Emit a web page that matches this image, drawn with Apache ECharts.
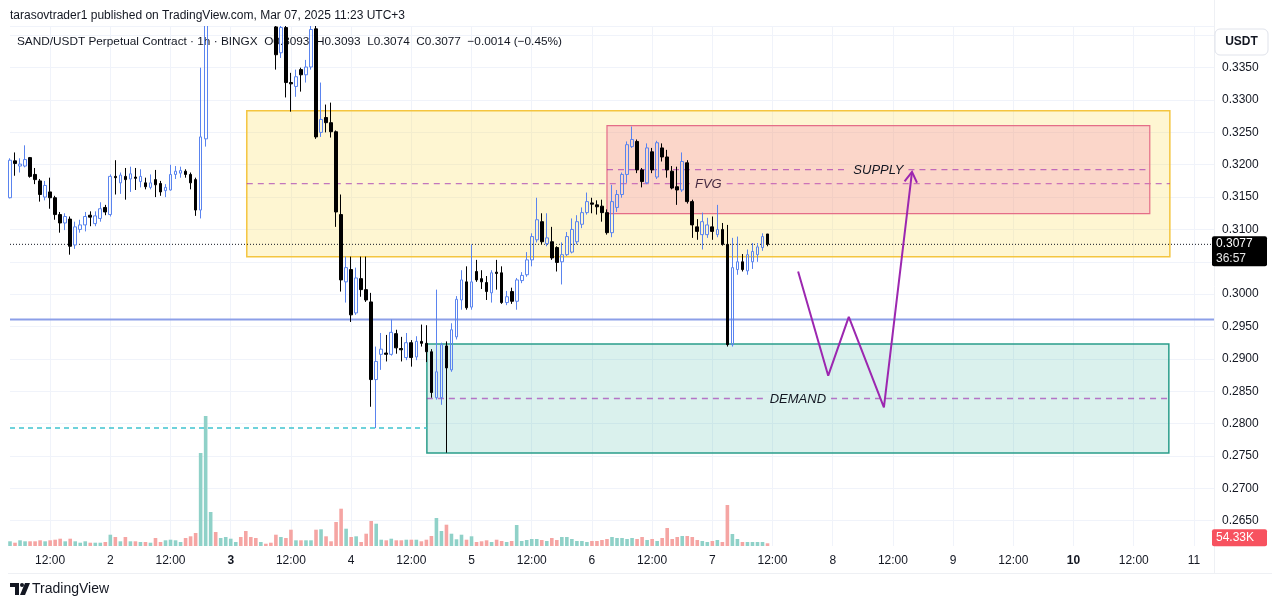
<!DOCTYPE html>
<html><head><meta charset="utf-8">
<script src="https://cdn.jsdelivr.net/npm/echarts@6/dist/echarts.min.js"></script>
<style>html,body{margin:0;padding:0;background:#fff;}#c{width:1280px;height:606px;}</style>
</head><body><div id="c"></div>
<script>
// ---------- DATA ----------
const startHourUTC = Date.UTC(2025, 2, 1, 4); // first candle: Mar 1, 04:00 (chart time)
const hourSlots = 241;                        // Mar 1 04:00 .. Mar 11 04:00

const open = [0.3149,0.3206,0.3198,0.3198,0.3211,0.3185,0.3175,0.3150,0.3158,0.3149,
0.3123,0.3110,0.3116,0.3076,0.3100,0.3107,0.3122,0.3109,0.3117,0.3134,
0.3123,0.3182,0.3172,0.3182,0.3178,0.3181,0.3174,0.3172,0.3165,0.3177,
0.3171,0.3160,0.3161,0.3185,0.3187,0.3190,0.3185,0.3177,0.3130,0.3240,
0.3445,0.3520,0.3490,0.3530,0.3560,0.3575,0.3585,0.3540,0.3490,0.3465,
0.3450,0.3462,0.3448,0.3413,0.3373,0.3412,0.3327,0.3321,0.3347,0.3339,
0.3351,0.3410,0.3250,0.3273,0.3265,0.3251,0.3123,0.3019,0.3038,0.2971,
0.3024,0.3007,0.2988,0.2868,0.2907,0.2909,0.2907,0.2939,0.2916,0.2902,
0.2925,0.2903,0.2927,0.2924,0.2911,0.2840,0.2840,0.2920,0.2883,0.2934,
0.2991,0.3019,0.2980,0.3035,0.3024,0.3018,0.3002,0.3034,0.3033,0.2987,
0.3004,0.2989,0.3021,0.3030,0.3053,0.3084,0.3112,0.3078,0.3081,0.3072,
0.3050,0.3061,0.3065,0.3081,0.3108,0.3126,0.3141,0.3138,0.3136,0.3126,
0.3095,0.3134,0.3154,0.3185,0.3228,0.3236,0.3192,0.3172,0.3220,0.3181,
0.3226,0.3212,0.3190,0.3166,0.3161,0.3203,0.3143,0.3104,0.3092,0.3092,
0.3104,0.3092,0.3100,0.3077,0.2922,0.3038,0.3050,0.3036,0.3050,0.3061,
0.3072,0.3093];
const high = [0.3210,0.3219,0.3210,0.3230,0.3212,0.3195,0.3178,0.3175,0.3180,0.3152,
0.3127,0.3125,0.3120,0.3112,0.3115,0.3127,0.3128,0.3128,0.3142,0.3138,
0.3185,0.3207,0.3188,0.3195,0.3197,0.3195,0.3193,0.3180,0.3185,0.3192,
0.3175,0.3170,0.3200,0.3198,0.3197,0.3193,0.3188,0.3180,0.3350,0.3470,
0.3560,0.3545,0.3550,0.3580,0.3600,0.3595,0.3590,0.3550,0.3500,0.3480,
0.3470,0.3468,0.3455,0.3440,0.3430,0.3420,0.3342,0.3347,0.3350,0.3362,
0.3430,0.3425,0.3327,0.3293,0.3296,0.3253,0.3154,0.3058,0.3058,0.3041,
0.3058,0.3058,0.3002,0.2919,0.2940,0.2937,0.2961,0.2945,0.2934,0.2940,
0.2929,0.2935,0.2953,0.2952,0.2915,0.3007,0.2925,0.2927,0.2955,0.2997,
0.3037,0.3043,0.3077,0.3053,0.3037,0.3028,0.3037,0.3053,0.3043,0.3005,
0.3010,0.3025,0.3034,0.3065,0.3094,0.3149,0.3125,0.3125,0.3104,0.3074,
0.3080,0.3096,0.3117,0.3122,0.3134,0.3157,0.3149,0.3145,0.3146,0.3131,
0.3169,0.3161,0.3188,0.3236,0.3259,0.3239,0.3195,0.3233,0.3226,0.3237,
0.3233,0.3223,0.3198,0.3197,0.3219,0.3207,0.3146,0.3116,0.3126,0.3118,
0.3120,0.3138,0.3110,0.3107,0.3087,0.3089,0.3062,0.3069,0.3079,0.3079,
0.3094,0.3093];
const low = [0.3148,0.3183,0.3188,0.3196,0.3180,0.3170,0.3143,0.3145,0.3132,0.3115,
0.3095,0.3099,0.3061,0.3070,0.3095,0.3097,0.3105,0.3105,0.3112,0.3122,
0.3120,0.3154,0.3155,0.3146,0.3158,0.3161,0.3165,0.3162,0.3162,0.3150,
0.3152,0.3150,0.3160,0.3178,0.3180,0.3180,0.3162,0.3121,0.3117,0.3228,
0.3430,0.3470,0.3480,0.3515,0.3545,0.3560,0.3530,0.3475,0.3455,0.3440,
0.3438,0.3435,0.3428,0.3347,0.3365,0.3304,0.3282,0.3305,0.3313,0.3327,
0.3347,0.3240,0.3243,0.3250,0.3242,0.3104,0.3004,0.2987,0.2957,0.2968,
0.2996,0.2988,0.2826,0.2793,0.2883,0.2896,0.2905,0.2908,0.2896,0.2898,
0.2888,0.2898,0.2919,0.2895,0.2840,0.2837,0.2829,0.2755,0.2880,0.2930,
0.2976,0.2976,0.2976,0.3019,0.3008,0.2991,0.2987,0.3007,0.2985,0.2983,
0.2985,0.2976,0.3017,0.3027,0.3043,0.3080,0.3077,0.3074,0.3053,0.3035,
0.3015,0.3059,0.3063,0.3077,0.3102,0.3123,0.3125,0.3123,0.3112,0.3092,
0.3088,0.3127,0.3149,0.3172,0.3226,0.3187,0.3165,0.3170,0.3187,0.3178,
0.3205,0.3180,0.3162,0.3138,0.3158,0.3140,0.3087,0.3084,0.3069,0.3087,
0.3084,0.3088,0.3075,0.2919,0.2919,0.3030,0.3035,0.3030,0.3039,0.3050,
0.3067,0.3074];
const close = [0.3207,0.3202,0.3201,0.3208,0.3182,0.3177,0.3154,0.3168,0.3149,0.3123,
0.3110,0.3120,0.3074,0.3104,0.3107,0.3120,0.3119,0.3121,0.3132,0.3127,
0.3182,0.3180,0.3184,0.3177,0.3186,0.3179,0.3182,0.3166,0.3172,0.3169,
0.3158,0.3165,0.3185,0.3190,0.3191,0.3185,0.3172,0.3130,0.3243,0.3445,
0.3520,0.3490,0.3530,0.3560,0.3575,0.3585,0.3540,0.3490,0.3465,0.3450,
0.3462,0.3448,0.3435,0.3370,0.3412,0.3327,0.3325,0.3336,0.3339,0.3351,
0.3409,0.3243,0.3270,0.3265,0.3251,0.3127,0.3022,0.3041,0.2968,0.3025,
0.3007,0.2991,0.2868,0.2896,0.2915,0.2907,0.2941,0.2917,0.2914,0.2925,
0.2902,0.2927,0.2924,0.2911,0.2848,0.2880,0.2922,0.2886,0.2945,0.2992,
0.3022,0.2979,0.3019,0.3022,0.3019,0.3004,0.3033,0.3032,0.2987,0.2996,
0.2989,0.3022,0.3029,0.3053,0.3089,0.3115,0.3081,0.3087,0.3056,0.3049,
0.3061,0.3089,0.3100,0.3112,0.3126,0.3143,0.3139,0.3135,0.3126,0.3095,
0.3143,0.3154,0.3185,0.3231,0.3239,0.3192,0.3174,0.3226,0.3192,0.3234,
0.3212,0.3192,0.3164,0.3161,0.3205,0.3143,0.3107,0.3097,0.3112,0.3107,
0.3097,0.3100,0.3077,0.2922,0.3041,0.3050,0.3038,0.3061,0.3066,0.3073,
0.3089,0.3077];
// volume, thousands of SAND
const volumeK = [94,66,114,94,94,94,114,94,114,126,146,94,146,94,66,94,66,66,66,80,
226,180,94,180,94,94,80,80,66,160,80,114,126,114,80,160,194,260,1860,2600,
680,280,160,180,146,80,180,300,180,160,80,46,66,226,180,160,326,114,114,114,
114,326,334,194,94,480,746,346,180,194,80,246,500,446,126,114,146,114,114,126,
126,126,94,126,200,560,300,426,246,134,226,126,194,80,94,114,80,126,100,80,
100,420,100,120,140,140,120,100,160,120,180,180,140,100,100,80,100,100,120,140,
180,160,160,140,160,140,180,120,140,100,160,360,140,180,200,200,180,120,100,80,
100,120,80,820,240,140,80,80,80,80,80,54.33];

// drawn levels and zones (time in hours from the first candle, price in USDT)
const lineLevelBlue = 0.2961;
const lineLevelCyan = 0.2793;
const cyanEndHour = 83.1;
const zoneLabels = ['FVG', 'SUPPLY', 'DEMAND'];
const zoneStart  = [47.2, 119.0, 83.1];
const zoneEnd    = [231.2, 227.2, 231.0];
const zoneTop    = [0.32836, 0.32604, 0.29230];
const zoneBottom = [0.30579, 0.31244, 0.27546];
const projectionPath = [[157.1,0.3035],[163.1,0.2874],[167.2,0.2965],[174.2,0.2825],[179.8,0.3189]];
const priceCountdown = '36:57';
const volumeLabel = '54.33K';

// ---------- STYLE ----------
const zoneStyles = [
  {fill:'rgba(251,220,90,0.27)', stroke:'#f4c53f', lw:1.5},
  {fill:'rgba(240,100,170,0.22)', stroke:'#e46d88', lw:1.2},
  {fill:'rgba(34,171,148,0.17)', stroke:'#2a9d8a', lw:1.5}
];
const UP = '#5a84ef', DOWN = '#000000';
const VOL_UP = '#8fd1c8', VOL_DOWN = '#f5a5a3';
const TXT = '#131722', GRID = '#f0f3fa', PURPLE = '#9c27b0';
const FONT = 'Liberation Sans, Arial, sans-serif';

// ---------- BUILD ----------
const categories = [];
for (let h = 0; h < hourSlots; h++) {
  const d = new Date(startHourUTC + h * 3600e3);
  categories.push(d.getUTCDate() + '|' + String(d.getUTCHours()).padStart(2,'0') + ':00|' + d.getUTCDay());
}
const candleData = open.map((o, i) => [o, close[i], low[i], high[i]]);
const volData = volumeK.map((v, i) => ({value: v, itemStyle: {color: close[i] >= open[i] ? VOL_UP : VOL_DOWN}}));
const lastClose = close[close.length - 1];

const isMajor = (idx, val) => { const hm = val.split('|')[1]; return hm === '00:00' || hm === '12:00'; };
const fmtTime = (val) => {
  const [day, hm, dow] = val.split('|');
  if (hm === '00:00') return dow === '1' ? '{b|' + day + '}' : day;
  return hm;
};

const measure = document.createElement('canvas').getContext('2d');
measure.font = 'italic 13px ' + FONT;

const priceMin = 0.26, priceStep = 0.005, priceMax = 0.26 + 527 / 6471;
const splitColors = [];
for (let k = 0; k < 20; k++) splitColors.push(k === 0 ? 'rgba(0,0,0,0)' : GRID);

const option = {
  animation: false,
  backgroundColor: '#ffffff',
  textStyle: {fontFamily: FONT},
  grid: [
    {left: 10, width: 1204, top: 26, height: 527},
    {left: 10, width: 1204, top: 26, height: 520}
  ],
  xAxis: [
    {type: 'category', gridIndex: 0, data: categories, boundaryGap: false, show: false},
    {type: 'category', gridIndex: 1, data: categories, boundaryGap: false,
     axisLine: {show: false}, axisTick: {show: false},
     axisLabel: {interval: isMajor, formatter: fmtTime, color: TXT, fontSize: 12, margin: 9, fontFamily: FONT,
                 rich: {b: {fontWeight: 'bold', color: TXT, fontSize: 12, fontFamily: FONT}}},
     splitLine: {show: true, interval: isMajor, lineStyle: {color: GRID, width: 1}}},
    {type: 'value', gridIndex: 0, min: 0, max: hourSlots - 1, show: false}
  ],
  yAxis: [
    {type: 'value', gridIndex: 0, position: 'right', min: priceMin, max: priceMax, interval: priceStep,
     axisLine: {show: false}, axisTick: {show: false},
     axisLabel: {color: TXT, fontSize: 12, margin: 8, fontFamily: FONT,
                 formatter: v => (v > 0.2649 && v < 0.3351) ? v.toFixed(4) : ''},
     splitLine: {show: true, lineStyle: {color: splitColors, width: 1}}},
    {type: 'value', gridIndex: 1, min: 0, max: 520 * 20, show: false}
  ],
  series: [
    { // zones with 50% lines and titles
      type: 'custom', xAxisIndex: 2, yAxisIndex: 0, z: 1, silent: true,
      data: zoneLabels.map((_, i) => [zoneStart[i], zoneEnd[i], zoneTop[i], zoneBottom[i]]),
      encode: {x: [0, 1], y: [2, 3]},
      renderItem: (params, api) => {
        const i = params.dataIndex;
        const p0 = api.coord([api.value(0), api.value(2)]);
        const p1 = api.coord([api.value(1), api.value(3)]);
        const st = zoneStyles[i];
        const midY = (p0[1] + p1[1]) / 2, midX = (p0[0] + p1[0]) / 2;
        const gap = measure.measureText(zoneLabels[i]).width / 2 + 5;
        const dash = {stroke: 'rgba(156,39,176,0.62)', lineWidth: 1.4, lineDash: [6, 5]};
        return {type: 'group', children: [
          {type: 'rect', shape: {x: p0[0], y: p0[1], width: p1[0] - p0[0], height: p1[1] - p0[1]},
           style: {fill: st.fill, stroke: st.stroke, lineWidth: st.lw}},
          {type: 'line', shape: {x1: p0[0], y1: midY, x2: midX - gap, y2: midY}, style: dash},
          {type: 'line', shape: {x1: midX + gap, y1: midY, x2: p1[0], y2: midY}, style: dash},
          {type: 'text', x: midX, y: midY + 1, style: {text: zoneLabels[i], fill: TXT, fontSize: 13,
            fontStyle: 'italic', fontFamily: FONT, align: 'center', verticalAlign: 'middle'}}
        ]};
      }
    },
    {type: 'line', xAxisIndex: 2, yAxisIndex: 0, z: 2, silent: true, symbol: 'none',
     data: [[0, lineLevelBlue], [hourSlots - 1, lineLevelBlue]], lineStyle: {color: '#8c9fe8', width: 2}},
    {type: 'line', xAxisIndex: 2, yAxisIndex: 0, z: 2, silent: true, symbol: 'none',
     data: [[0, lineLevelCyan], [cyanEndHour, lineLevelCyan]], lineStyle: {color: '#3fc3cf', width: 1.5, type: [5, 4]}},
    {type: 'line', xAxisIndex: 2, yAxisIndex: 0, z: 2, silent: true, symbol: 'none',
     data: [[0, lastClose], [hourSlots - 1, lastClose]], lineStyle: {color: TXT, width: 1, type: [1, 2]}},
    {type: 'candlestick', xAxisIndex: 0, yAxisIndex: 0, z: 3, data: candleData, barWidth: 3.2, clip: true,
     itemStyle: {color: 'rgba(0,0,0,0)', color0: DOWN, borderColor: UP, borderColor0: DOWN, borderWidth: 1}},
    {type: 'line', xAxisIndex: 2, yAxisIndex: 0, z: 4, silent: true, symbol: 'none',
     data: projectionPath, lineStyle: {color: PURPLE, width: 2}},
    {type: 'custom', xAxisIndex: 2, yAxisIndex: 0, z: 4, silent: true,
     data: [[projectionPath[projectionPath.length - 2][0], projectionPath[projectionPath.length - 2][1],
             projectionPath[projectionPath.length - 1][0], projectionPath[projectionPath.length - 1][1]]],
     encode: {x: [0, 2], y: [1, 3]},
     renderItem: (params, api) => {
       const a = api.coord([api.value(0), api.value(1)]);
       const b = api.coord([api.value(2), api.value(3)]);
       const ang = Math.atan2(a[1] - b[1], a[0] - b[0]);
       const L = 12, s = 0.55;
       return {type: 'polyline', shape: {points: [
         [b[0] + L * Math.cos(ang + s), b[1] + L * Math.sin(ang + s)], b,
         [b[0] + L * Math.cos(ang - s), b[1] + L * Math.sin(ang - s)]]},
         style: {stroke: PURPLE, lineWidth: 2, fill: null}};
     }},
    {type: 'bar', xAxisIndex: 1, yAxisIndex: 1, z: 2, data: volData, barWidth: 3.6, silent: true}
  ]
};

const chart = echarts.init(document.getElementById('c'));
chart.setOption(option);

// ---------- Overlay texts (price tag positions come from the axes) ----------
const yLast = chart.convertToPixel({yAxisIndex: 0}, lastClose);
const yVol = chart.convertToPixel({yAxisIndex: 1}, volumeK[volumeK.length - 1]);
const graphics = [
  {type: 'rect', shape: {x: 0, y: 0, width: 1214, height: 26}, style: {fill: '#ffffff'}, z: 8},
  {type: 'text', left: 10, top: 10, z: 10, style: {text: 'tarasovtrader1 published on TradingView.com, Mar 07, 2025 11:23 UTC+3',
    fill: TXT, font: '12px ' + FONT}},
  {type: 'text', left: 17, top: 36, z: 1, style: {text: 'SAND/USDT Perpetual Contract · 1h · BINGX  O0.3093  H0.3093  L0.3074  C0.3077  −0.0014 (−0.45%)',
    fill: TXT, font: '11.8px ' + FONT}},
  {type: 'rect', shape: {x: 1215, y: 29, width: 53, height: 26, r: 5}, style: {fill: '#fff', stroke: '#e0e3eb', lineWidth: 1}, z: 10},
  {type: 'text', x: 1241.5, y: 42, z: 11, style: {text: 'USDT', fill: TXT, font: '600 12px ' + FONT, align: 'center', verticalAlign: 'middle'}},
  {type: 'line', shape: {x1: 1214.5, y1: 0, x2: 1214.5, y2: 573}, style: {stroke: '#eef0f4', lineWidth: 1}, z: 0},
  {type: 'line', shape: {x1: 8, y1: 573.5, x2: 1272, y2: 573.5}, style: {stroke: '#eef0f4', lineWidth: 1}, z: 0},
  {type: 'rect', shape: {x: 1212, y: yLast - 8, width: 55, height: 30, r: 2}, style: {fill: '#000'}, z: 12},
  {type: 'text', x: 1216, y: yLast - 1, z: 13, style: {text: lastClose.toFixed(4), fill: '#fff', font: '12px ' + FONT, verticalAlign: 'middle'}},
  {type: 'text', x: 1216, y: yLast + 14, z: 13, style: {text: priceCountdown, fill: '#e6e6e6', font: '12px ' + FONT, verticalAlign: 'middle'}},
  {type: 'rect', shape: {x: 1212, y: yVol - 14, width: 55, height: 17, r: 2}, style: {fill: '#f7525f'}, z: 12},
  {type: 'text', x: 1216, y: yVol - 5.5, z: 13, style: {text: volumeLabel, fill: '#fff', font: '12px ' + FONT, verticalAlign: 'middle'}},
  // TradingView logo
  {type: 'polygon', shape: {points: [[10,583],[19,583],[19,595],[15,595],[15,587],[10,587]]}, style: {fill: TXT}, z: 10},
  {type: 'circle', shape: {cx: 22, cy: 585, r: 2}, style: {fill: TXT}, z: 10},
  {type: 'polygon', shape: {points: [[25,583],[30,583],[25,595],[20,595]]}, style: {fill: TXT}, z: 10},
  {type: 'text', x: 32, y: 589, z: 10, style: {text: 'TradingView', fill: TXT, font: '500 14px ' + FONT, verticalAlign: 'middle'}}
];
chart.setOption({graphic: graphics});
</script>
</body></html>
